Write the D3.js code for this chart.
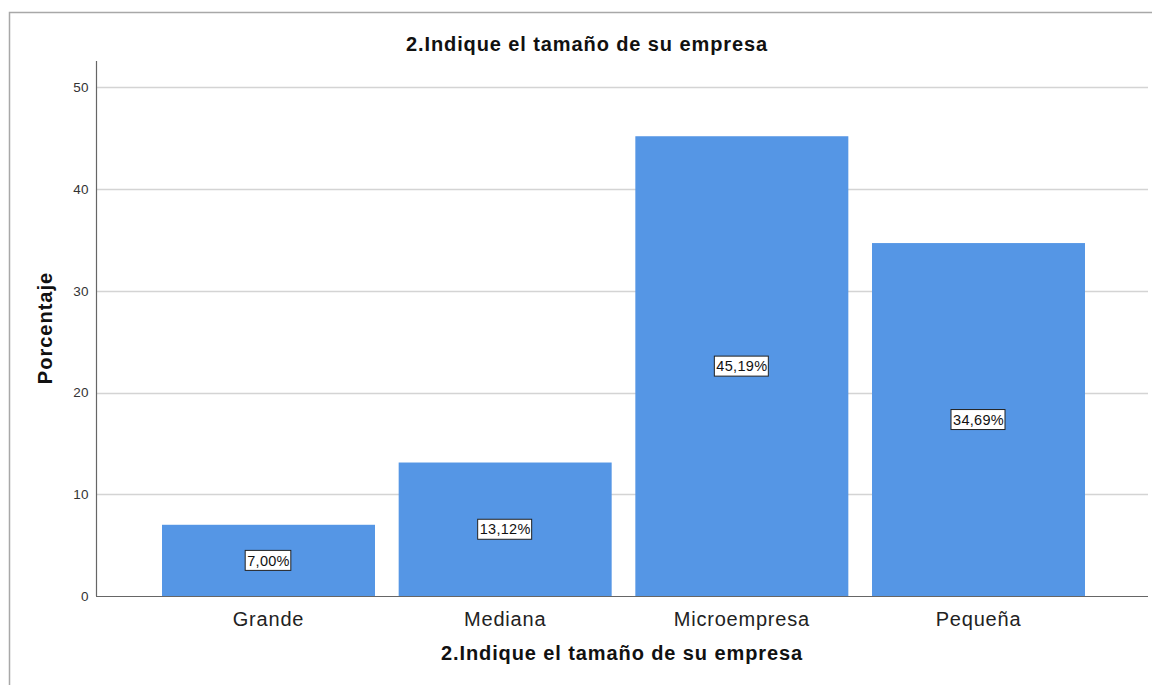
<!DOCTYPE html>
<html>
<head>
<meta charset="utf-8">
<script src="https://cdn.jsdelivr.net/npm/d3@7"></script>
<style>
  body { margin: 0; background: #fff; }
  svg { display: block; font-family: "Liberation Sans", Arial, sans-serif; }
</style>
</head>
<body>
<svg id="chart" width="1152" height="685"></svg>
<script>
const categories = ["Grande", "Mediana", "Microempresa", "Pequeña"];
const values = [7.00, 13.12, 45.19, 34.69];
const valueLabels = ["7,00%", "13,12%", "45,19%", "34,69%"];
const yTicks = [0, 10, 20, 30, 40, 50];
const title = "2.Indique el tamaño de su empresa";
const xTitle = "2.Indique el tamaño de su empresa";
const yTitle = "Porcentaje";

const svg = d3.select("#chart");

// outer frame
svg.append("path")
  .attr("d", "M9.5,690 L9.5,12.5 L1160,12.5")
  .attr("fill", "none").attr("stroke", "#a8a8a8").attr("stroke-width", 1.5);

const plotL = 96, plotR = 1148, plotT = 61, plotB = 596;

const y = d3.scaleLinear().domain([0, 50]).range([596, 87.3]);
const x = d3.scaleBand().domain(categories).range([162, 1085]).paddingInner(0.1).paddingOuter(0);

// gridlines
svg.append("g").selectAll("line").data(yTicks.filter(d => d > 0)).join("line")
  .attr("x1", plotL).attr("x2", plotR)
  .attr("y1", d => Math.round(y(d)) + 0.5).attr("y2", d => Math.round(y(d)) + 0.5)
  .attr("stroke", "#d4d4d4").attr("stroke-width", 1.5);

// bars
svg.append("g").selectAll("rect").data(values).join("rect")
  .attr("x", (d, i) => x(categories[i]))
  .attr("width", x.bandwidth())
  .attr("y", d => y(d))
  .attr("height", d => y(0) - y(d))
  .attr("fill", "#5596e5");

// y axis
const yAxis = d3.axisLeft(y).tickValues(yTicks).tickSize(0).tickPadding(7);
const gy = svg.append("g").attr("transform", `translate(${plotL},0)`).call(yAxis);
gy.select(".domain").remove();
gy.selectAll("text").attr("font-size", 13.5).attr("letter-spacing", 0.4).attr("fill", "#333")
  .attr("font-family", "'Liberation Sans', Arial, sans-serif");
svg.append("line").attr("x1", plotL + 0.5).attr("x2", plotL + 0.5).attr("y1", plotT).attr("y2", plotB)
  .attr("stroke", "#666").attr("stroke-width", 1.2);

// x axis
const xAxis = d3.axisBottom(x).tickSize(0).tickPadding(16);
const gx = svg.append("g").attr("transform", `translate(0,${plotB})`).call(xAxis);
gx.select(".domain").remove();
gx.selectAll("text").attr("font-size", 20).attr("letter-spacing", 0.8).attr("fill", "#222")
  .attr("font-family", "'Liberation Sans', Arial, sans-serif");
svg.append("line").attr("x1", plotL).attr("x2", plotR).attr("y1", plotB + 0.5).attr("y2", plotB + 0.5)
  .attr("stroke", "#666").attr("stroke-width", 1.2);

// value labels
const lab = svg.append("g").selectAll("g").data(values).join("g")
  .attr("transform", (d, i) => `translate(${x(categories[i]) + x.bandwidth() / 2},${y(d / 2)})`);
lab.append("rect").attr("x", -24).attr("y", -10).attr("width", 48).attr("height", 20)
  .attr("fill", "#fff").attr("stroke", "#222").attr("stroke-width", 1);
lab.append("text").text((d, i) => valueLabels[i])
  .attr("text-anchor", "middle").attr("dy", "0.36em")
  .attr("font-size", 14.5).attr("letter-spacing", 0.3).attr("fill", "#111");
lab.each(function () {
  const t = d3.select(this).select("text").node().getBBox();
  d3.select(this).select("rect").attr("x", t.x - 2).attr("width", t.width + 3);
});

// titles
svg.append("text").attr("x", 587).attr("y", 51).attr("text-anchor", "middle")
  .attr("font-size", 20).attr("letter-spacing", 0.9).attr("font-weight", "bold").attr("fill", "#111").text(title);
svg.append("text").attr("x", 622).attr("y", 660).attr("text-anchor", "middle")
  .attr("font-size", 20).attr("letter-spacing", 0.9).attr("font-weight", "bold").attr("fill", "#111").text(xTitle);
svg.append("text").attr("transform", "translate(52,328) rotate(-90)").attr("text-anchor", "middle")
  .attr("font-size", 20).attr("letter-spacing", 1).attr("font-weight", "bold").attr("fill", "#111").text(yTitle);
</script>
</body>
</html>
